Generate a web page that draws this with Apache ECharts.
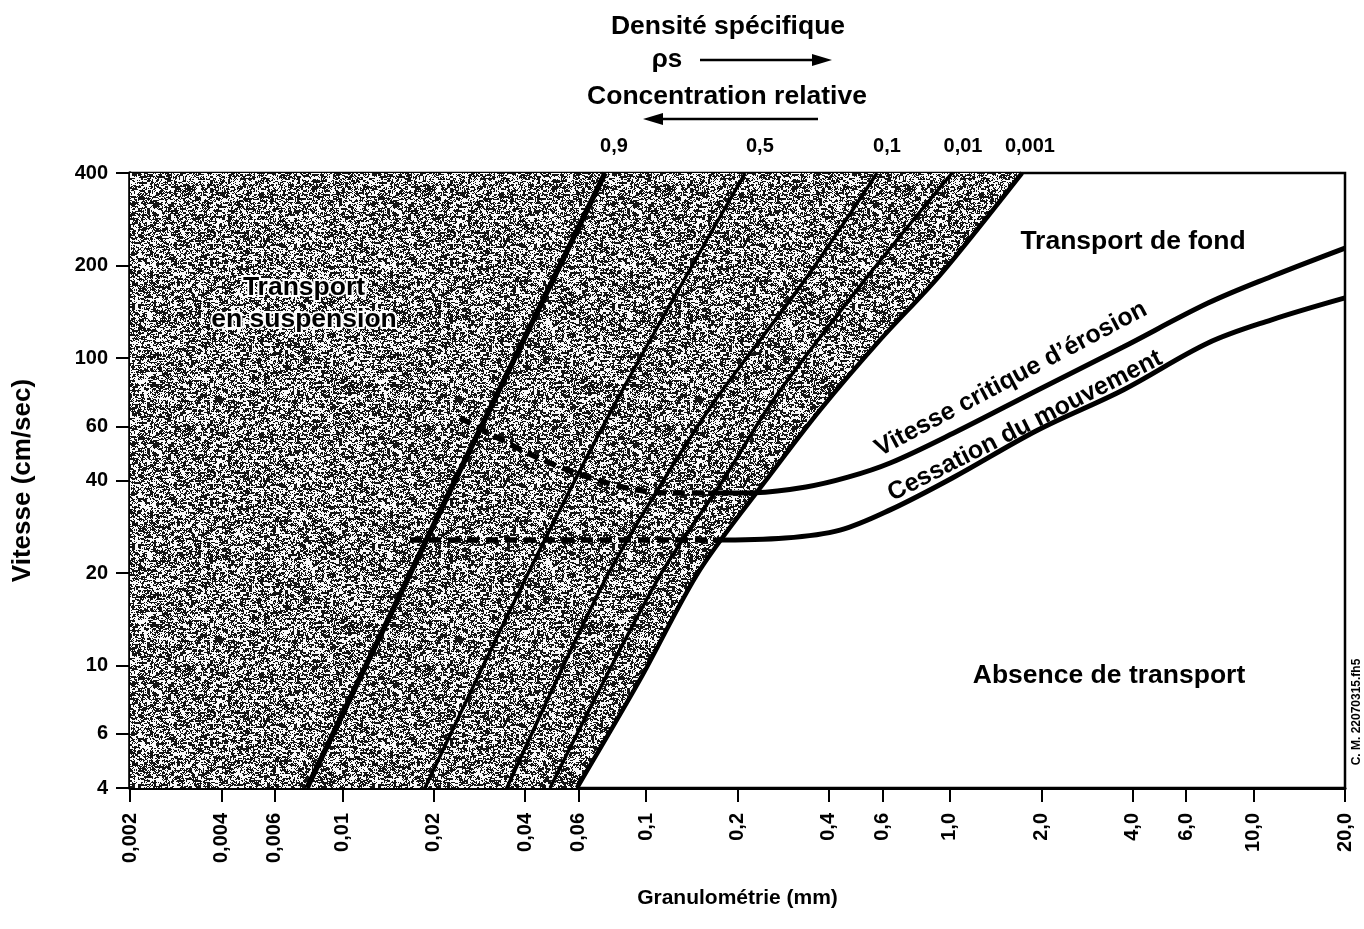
<!DOCTYPE html>
<html>
<head>
<meta charset="utf-8">
<title>Granulométrie et vitesse</title>
<script src="https://cdn.jsdelivr.net/npm/echarts@6/dist/echarts.min.js"></script>
<style>
    html, body { margin: 0; padding: 0; background: #fff; }
    #chart { width: 1364px; height: 929px; }
</style>
</head>
<body>
<div id="chart"></div>
<script>
// ticks
var xTicks = [0.002, 0.004, 0.006, 0.01, 0.02, 0.04, 0.06, 0.1, 0.2, 0.4, 0.6, 1, 2, 4, 6, 10, 20];
var xTickLabels = ['0,002', '0,004', '0,006', '0,01', '0,02', '0,04', '0,06', '0,1', '0,2', '0,4', '0,6', '1,0', '2,0', '4,0', '6,0', '10,0', '20,0'];
var yTicks = [4, 6, 10, 20, 40, 60, 100, 200, 400];

// concentration relative, read on the top edge
var concAt = [0.0784, 0.237, 0.621, 1.105, 1.836];
var concLabels = ['0,9', '0,5', '0,1', '0,01', '0,001'];

// suspension curves [diametre mm, vitesse cm/s]
var conc09 = [[0.00765, 4], [0.0235, 40], [0.0733, 400]];
var conc05 = [[0.0187, 4], [0.0399, 19], [0.0802, 73], [0.212, 400]];
var conc01 = [[0.0348, 4], [0.0733, 19], [0.114, 40], [0.169, 73], [0.334, 180], [0.576, 400]];
var conc001 = [[0.0483, 4], [0.109, 19], [0.179, 40], [0.262, 73], [0.526, 180], [1.017, 400]];
var conc0001 = [[0.0592, 4], [0.0955, 9], [0.1505, 20.5], [0.256, 41.7], [0.374, 67.8], [0.589, 114.5], [0.928, 186], [1.729, 400]];

// erosion / deposition
var erosion = [[0.16, 36.4], [0.228, 36.5], [0.336, 38.1], [0.462, 41], [0.636, 45.6], [1.03, 57.1], [1.95, 78.8], [3.72, 108.7], [7.08, 151], [11.4, 184], [20, 228]];
var erosionDash = [[0.0244, 63.9], [0.0299, 57.5], [0.0406, 49.2], [0.0575, 42.6], [0.0865, 37.8], [0.12, 36.4], [0.16, 36.4]];
var cessation = [[0.166, 25.6], [0.287, 26], [0.435, 27.6], [0.636, 32.1], [1.03, 41], [1.95, 58.4], [3.72, 78.8], [7.08, 112], [11.4, 133], [20, 157]];
var cessationDash = [[0.0167, 25.6], [0.166, 25.6]];

var font = "'Liberation Sans', Arial, Helvetica, sans-serif";

// grainy stipple used for the suspension zone
function grain(w, h) {
    var cv = document.createElement('canvas');
    cv.width = w;
    cv.height = h;
    var ctx = cv.getContext('2d');
    var img = ctx.createImageData(w, h);
    var seed = 97;
    function next() {
        seed = (seed * 16807) % 2147483647;
        return seed / 2147483647;
    }
    var cw = Math.ceil(w / 3), ch = Math.ceil(h / 2);
    var coarse = [];
    for (var k = 0; k < cw * ch; k++) coarse.push(next());
    for (var y = 0; y < h; y++) {
        for (var x = 0; x < w; x++) {
            var c = coarse[Math.floor(y / 2) * cw + Math.floor(x / 3)];
            var p = 0.5 * c + 0.5 * next();
            var g = p > 0.5 ? 20 : 250;
            var i = (y * w + x) * 4;
            img.data[i] = img.data[i + 1] = img.data[i + 2] = g;
            img.data[i + 3] = 255;
        }
    }
    ctx.putImageData(img, 0, 0);
    return cv;
}

function nearest(list, v) {
    var best = 0, d = Infinity;
    for (var i = 0; i < list.length; i++) {
        var dd = Math.abs(Math.log(list[i]) - Math.log(v));
        if (dd < d) { d = dd; best = i; }
    }
    return best;
}

function lineSeries(data, width, smooth, dash) {
    return {
        type: 'line',
        data: data,
        smooth: smooth,
        symbol: 'none',
        silent: true,
        lineStyle: { color: '#000', width: width, type: dash || 'solid', cap: 'butt' },
        z: 3
    };
}

function label(x, y, text, size, extra) {
    var el = {
        type: 'text', x: x, y: y, z: 10,
        style: {
            text: text, font: 'bold ' + size + 'px ' + font, fill: '#000',
            textAlign: 'center', align: 'center', textVerticalAlign: 'middle', verticalAlign: 'middle'
        }
    };
    if (extra) {
        for (var k in extra.style || {}) el.style[k] = extra.style[k];
        if (extra.rotation) el.rotation = extra.rotation;
    }
    return el;
}

var labelStyle = { fontFamily: font, fontWeight: 'bold', fontSize: 20, color: '#000' };

var chart = echarts.init(document.getElementById('chart'));

chart.setOption({
    animation: false,
    grid: {
        left: 130, top: 173, right: 19, bottom: 141,
        outerBoundsMode: 'none', containLabel: false,
        show: true, borderColor: '#000', borderWidth: 2.5
    },
    xAxis: [{
        type: 'log', logBase: 10, min: 0.002, max: 20,
        name: 'Granulométrie (mm)', nameLocation: 'middle', nameGap: 100,
        nameTextStyle: { fontFamily: font, fontWeight: 'bold', fontSize: 21, color: '#000' },
        axisLine: { show: true, onZero: false, lineStyle: { color: '#000', width: 3 } },
        axisTick: { show: true, length: 14, customValues: xTicks, lineStyle: { color: '#000', width: 2 } },
        axisLabel: Object.assign({
            customValues: xTicks, rotate: 90, margin: 25,
            formatter: function (v) { return xTickLabels[nearest(xTicks, v)]; }
        }, labelStyle),
        splitLine: { show: false },
        minorTick: { show: false }
    }, {
        type: 'log', logBase: 10, min: 0.002, max: 20, position: 'top',
        axisLine: { show: false },
        axisTick: { show: false },
        axisLabel: Object.assign({
            customValues: concAt, margin: 17,
            formatter: function (v) { return concLabels[nearest(concAt, v)]; }
        }, labelStyle),
        splitLine: { show: false }
    }],
    yAxis: {
        type: 'log', logBase: 10, min: 4, max: 400,
        name: 'Vitesse (cm/sec)', nameLocation: 'middle', nameGap: 94, nameRotate: 90,
        nameTextStyle: { fontFamily: font, fontWeight: 'bold', fontSize: 26, color: '#000' },
        axisLine: { show: true, lineStyle: { color: '#000', width: 3.5 } },
        axisTick: { show: true, length: 14, customValues: yTicks, lineStyle: { color: '#000', width: 2 } },
        axisLabel: Object.assign({
            customValues: yTicks, margin: 22,
            formatter: function (v) { return String(yTicks[nearest(yTicks, v)]); }
        }, labelStyle),
        splitLine: { show: false }
    },
    series: [
        {
            type: 'line',
            data: [[0.002, 4]].concat(conc0001),
            symbol: 'none',
            silent: true,
            lineStyle: { width: 0, opacity: 0 },
            areaStyle: { origin: 'end', opacity: 1, color: { image: grain(240, 240), repeat: 'repeat' } },
            z: 1
        },
        lineSeries(conc09, 5.5, false),
        lineSeries(conc05, 3.5, 0.3),
        lineSeries(conc01, 3.5, 0.3),
        lineSeries(conc001, 3.5, 0.3),
        lineSeries(conc0001, 4.5, 0.3),
        lineSeries(erosionDash, 5.5, 0.3, [12, 7]),
        lineSeries(cessationDash, 5.5, false, [12, 7]),
        lineSeries(erosion, 5, 0.35),
        lineSeries(cessation, 5, 0.35)
    ],
    graphic: [
        label(728, 27, 'Densité spécifique', 26.5),
        label(667, 60, 'ρs', 26),
        { type: 'line', shape: { x1: 700, y1: 60, x2: 818, y2: 60 }, style: { stroke: '#000', lineWidth: 2.5 } },
        { type: 'polygon', shape: { points: [[832, 60], [812, 54], [812, 66]] }, style: { fill: '#000' } },
        label(727, 97, 'Concentration relative', 26.5),
        { type: 'line', shape: { x1: 818, y1: 119, x2: 658, y2: 119 }, style: { stroke: '#000', lineWidth: 2.5 } },
        { type: 'polygon', shape: { points: [[643, 119], [663, 113], [663, 125]] }, style: { fill: '#000' } },
        label(304, 288, 'Transport', 26.5, { style: { stroke: '#fff', lineWidth: 4 } }),
        label(304, 320, 'en suspension', 26.5, { style: { stroke: '#fff', lineWidth: 4 } }),
        label(1133, 242, 'Transport de fond', 26.5),
        label(1109, 676, 'Absence de transport', 26.5),
        label(1011, 379, 'Vitesse critique d\u2019érosion', 25, { rotation: 28 * Math.PI / 180 }),
        label(1025, 426, 'Cessation du mouvement', 25, { rotation: 27 * Math.PI / 180 }),
        label(1357, 712, 'C. M. 22070315.fh5', 12, { rotation: Math.PI / 2 })
    ]
});
</script>
</body>
</html>
